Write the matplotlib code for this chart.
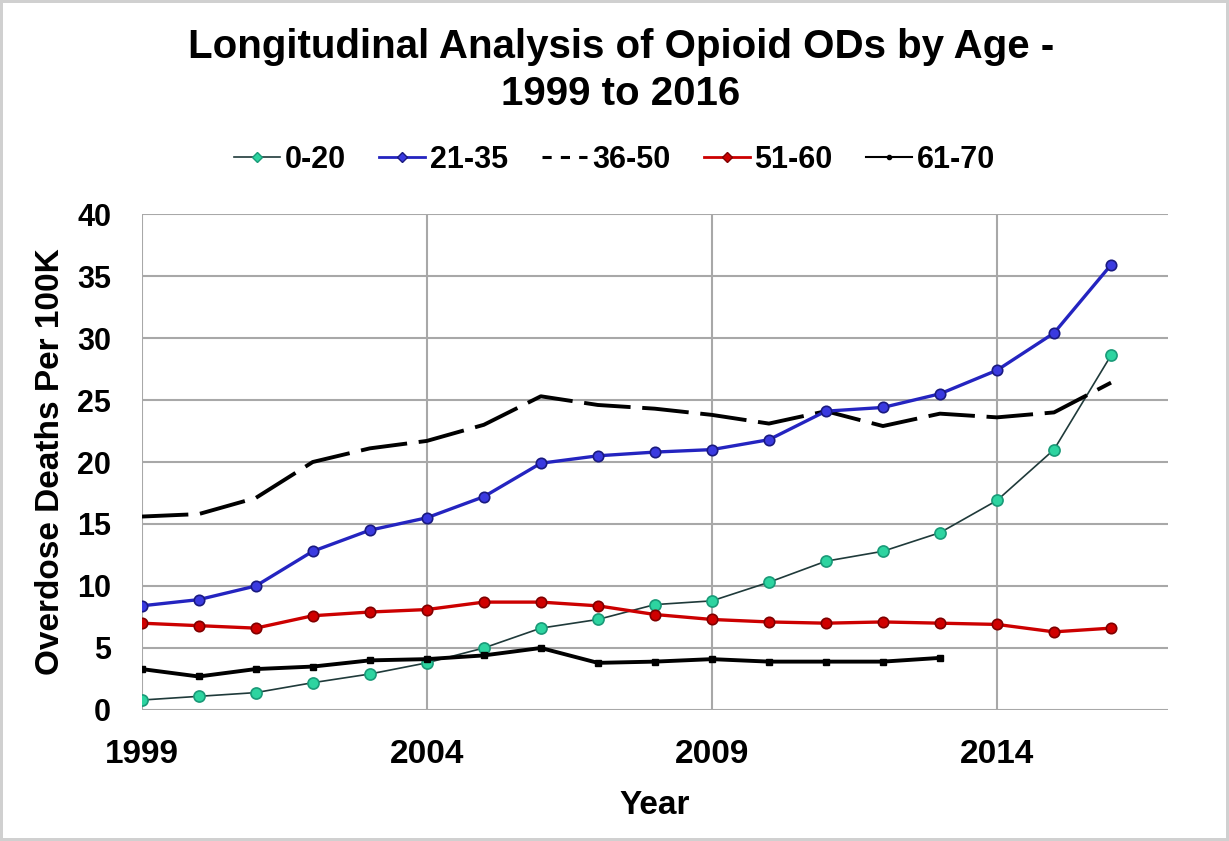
import matplotlib.pyplot as plt
from matplotlib.lines import Line2D

years = list(range(1999, 2017))

age_0_20 = [0.8, 1.1, 1.4, 2.2, 2.9, 3.8, 5.0, 6.6, 7.3, 8.5, 8.8, 10.3, 12.0, 12.8, 14.3, 16.9, 21.0, 28.6]
age_21_35 = [8.4, 8.9, 10.0, 12.8, 14.5, 15.5, 17.2, 19.9, 20.5, 20.8, 21.0, 21.8, 24.1, 24.4, 25.5, 27.4, 30.4, 35.9]
age_36_50 = [15.6, 15.8, 17.1, 20.0, 21.1, 21.7, 23.0, 25.3, 24.6, 24.3, 23.8, 23.1, 24.1, 22.9, 23.9, 23.6, 24.0, 26.4]
age_51_60 = [7.0, 6.8, 6.6, 7.6, 7.9, 8.1, 8.7, 8.7, 8.4, 7.7, 7.3, 7.1, 7.0, 7.1, 7.0, 6.9, 6.3, 6.6]
age_61_70 = [3.3, 2.7, 3.3, 3.5, 4.0, 4.1, 4.4, 5.0, 3.8, 3.9, 4.1, 3.9, 3.9, 3.9, 4.2]
years_61_70 = years[:len(age_61_70)]

labels = ['0-20', '21-35', '36-50', '51-60', '61-70']
xticks = [1999, 2004, 2009, 2014]
yticks = [0, 5, 10, 15, 20, 25, 30, 35, 40]

teal = '#2dd4a0'
blue = '#2424c0'
red = '#cc0000'

plt.rcParams['font.family'] = ['Liberation Sans', 'DejaVu Sans']
plt.rcParams['font.weight'] = 'bold'

fig = plt.figure(figsize=(12.29, 8.41), dpi=100)
fig.patch.set_edgecolor('#d0d0d0')
fig.patch.set_linewidth(3)
ax = fig.add_axes([0.1153, 0.1558, 0.8351, 0.5897])

ax.plot(years, age_0_20, color='#1f3a3a', lw=1.2, marker='o', ms=8,
        mfc=teal, mec='#1a9a78', mew=1.2, zorder=3)
ax.plot(years, age_21_35, color=blue, lw=2.4, marker='o', ms=7.5,
        mfc='#3a3ae0', mec='#1a1a80', mew=1.2, zorder=4)
ax.plot(years, age_36_50, color='black', lw=2.8, dashes=(12, 3), zorder=3)
ax.plot(years, age_51_60, color=red, lw=2.4, marker='o', ms=7.5,
        mfc='#d00000', mec='#800000', mew=1.2, zorder=3)
ax.plot(years_61_70, age_61_70, color='black', lw=2.8, marker='s', ms=4.5, zorder=3)

ax.set_xlim(1999, 2017)
ax.set_ylim(0, 40)
ax.set_xticks(xticks)
ax.set_yticks(yticks)
ax.grid(True, color='#a8a8a8', lw=1.5)
ax.set_axisbelow(True)
for s in ax.spines.values():
    s.set_visible(False)
ax.tick_params(length=0)
ax.tick_params(axis='x', labelsize=24, pad=21)
ax.tick_params(axis='y', labelsize=22, pad=22)

ax.set_xlabel('Year', fontsize=24, fontweight='bold', labelpad=14)
ax.set_ylabel('Overdose Deaths Per 100K', fontsize=24, fontweight='bold', labelpad=8)

fig.text(0.505, 1 - 58 / 841, 'Longitudinal Analysis of Opioid ODs by Age -',
         ha='center', va='baseline', fontsize=29, fontweight='bold')
fig.text(0.505, 1 - 105 / 841, '1999 to 2016',
         ha='center', va='baseline', fontsize=29, fontweight='bold')

# legend proxies (short handles like the original)
handles = [
    Line2D([], [], color='#1f3a3a', lw=1.2, marker='D', ms=5, mfc=teal, mec='#1a9a78'),
    Line2D([], [], color=blue, lw=2, marker='D', ms=5, mfc='#3a3ae0', mec='#1a1a80'),
    Line2D([], [], color='black', lw=2.2, dashes=(3, 3)),
    Line2D([], [], color=red, lw=2, marker='D', ms=5, mfc=red, mec='#800000'),
    Line2D([], [], color='black', lw=1.5, marker='o', ms=3),
]
fig.legend(handles, labels, loc='center', bbox_to_anchor=(0.5, 1 - 160 / 841), ncol=5,
           frameon=False, fontsize=22, handlelength=1.5, handletextpad=0.15,
           columnspacing=1.1)

fig.savefig('out.png', dpi=100)
